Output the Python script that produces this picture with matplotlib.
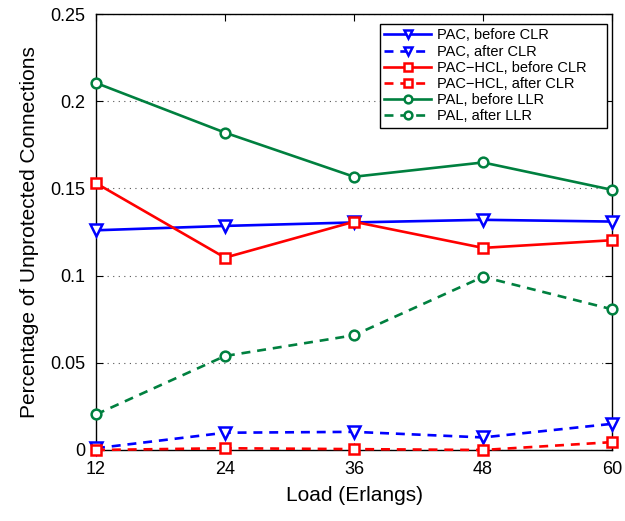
import matplotlib
matplotlib.use("Agg")
import matplotlib.pyplot as plt

plt.rcParams["font.family"] = ["Liberation Sans", "DejaVu Sans"]

loads = [12, 24, 36, 48, 60]

pac_before = [0.126, 0.1285, 0.1305, 0.132, 0.131]
pac_after = [0.001, 0.0099, 0.0104, 0.0072, 0.015]
hcl_before = [0.153, 0.1103, 0.1309, 0.1159, 0.1203]
hcl_after = [0.0, 0.001, 0.0005, 0.0, 0.0045]
pal_before = [0.2105, 0.182, 0.1567, 0.1649, 0.1492]
pal_after = [0.0204, 0.0539, 0.0658, 0.0993, 0.0807]

labels = [
    "PAC, before CLR",
    "PAC, after CLR",
    "PAC\u2212HCL, before CLR",
    "PAC\u2212HCL, after CLR",
    "PAL, before LLR",
    "PAL, after LLR",
]

BLUE = "#0000ff"
RED = "#ff0000"
GREEN = "#00803f"

series = [
    (pac_before, BLUE, "v", "-", 8),
    (pac_after, BLUE, "v", "--", 8),
    (hcl_before, RED, "s", "-", 6.5),
    (hcl_after, RED, "s", "--", 6.5),
    (pal_before, GREEN, "o", "-", 7),
    (pal_after, GREEN, "o", "--", 7),
]

fig = plt.figure(figsize=(6.25, 5.21), dpi=100)
ax = fig.add_axes([0.1536, 0.1363, 0.8256, 0.8367])

for (values, color, marker, style, ms), label in zip(series, labels):
    line, = ax.plot(
        loads, values, color=color, marker=marker, linestyle=style,
        linewidth=1.9, markersize=ms, markerfacecolor="white",
        markeredgecolor=color, markeredgewidth=1.8, label=label,
        clip_on=False, zorder=3,
    )
    if style == "--":
        line.set_dashes((3.4, 2.6))

ax.set_xlim(12, 60)
ax.set_ylim(0, 0.25)
ax.set_xticks(loads)
ax.set_yticks([0, 0.05, 0.1, 0.15, 0.2, 0.25])
ax.set_yticklabels(["0", "0.05", "0.1", "0.15", "0.2", "0.25"])
ax.tick_params(direction="in", top=True, right=True, labelsize=13, length=5, pad=8)
ax.yaxis.grid(True, linestyle=(0, (1, 4)), color="#555555", linewidth=0.8)
for spine in ax.spines.values():
    spine.set_linewidth(1.0)

ax.set_xlabel("Load (Erlangs)", fontsize=15, labelpad=6)
ax.set_ylabel("Percentage of Unprotected Connections", fontsize=15, labelpad=8)

# legend box spans a fixed width in the upper right corner
leg = ax.legend(
    loc="upper left", bbox_to_anchor=(0.5504, 0.5, 0.440, 0.477),
    mode="expand", borderaxespad=0,
    fontsize=10.5, frameon=True, fancybox=False, edgecolor="black",
    framealpha=1, handlelength=3.2, handletextpad=0.4, labelspacing=0.15,
    borderpad=0.3, markerscale=0.8,
)
leg.get_frame().set_linewidth(1.0)

fig.savefig("out.png", dpi=100)
